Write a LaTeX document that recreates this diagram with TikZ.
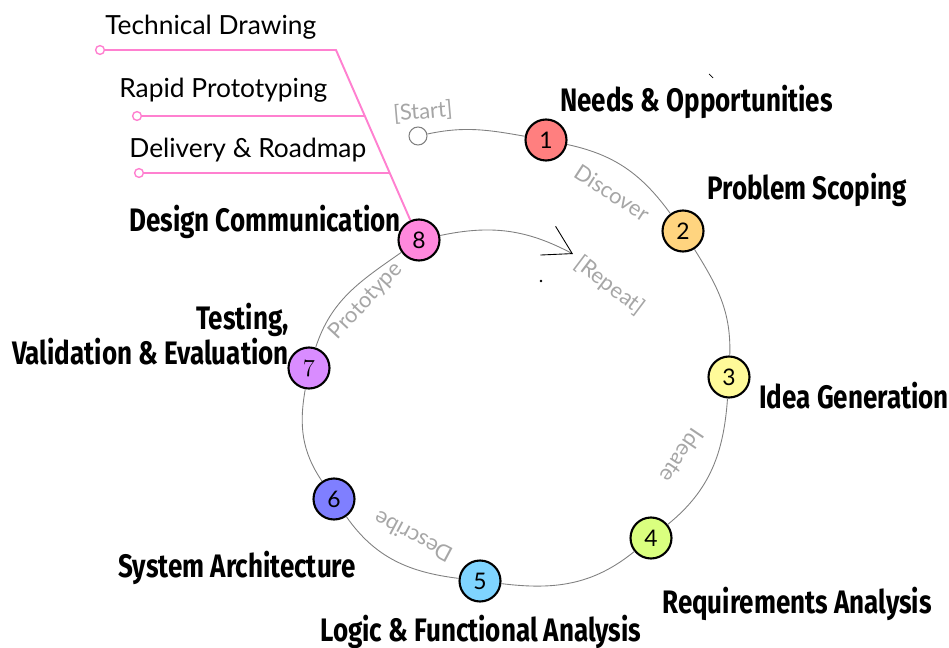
\documentclass[tikz,border=0pt]{standalone}
\usepackage{fontspec}
\usetikzlibrary{arrows.meta}
\newfontfamily\headfont[FakeStretch=0.8]{Fira Sans}
\newfontfamily\handfont{Lato}
\definecolor{c1}{HTML}{FF7F7F}
\definecolor{c2}{HTML}{FFD47F}
\definecolor{c3}{HTML}{FFFA99}
\definecolor{c4}{HTML}{DAFF7F}
\definecolor{c5}{HTML}{7FD4FF}
\definecolor{c6}{HTML}{7F7FFF}
\definecolor{c7}{HTML}{D98CFF}
\definecolor{c8}{HTML}{FF88DD}
\definecolor{linkpink}{HTML}{FF80D0}
\begin{document}
\begin{tikzpicture}[x=0.02cm, y=0.02cm,
	stage/.style={circle, draw=black, line width=1.2pt, minimum size=0.82cm, inner sep=0pt, font=\handfont\fontsize{13}{13}\selectfont},
	flow/.style={draw=black!50, line width=0.5pt},
	phase/.style={text=black!35, inner sep=1pt, font=\handfont\fontsize{12.5}{12.5}\selectfont},
	stagename/.style={inner sep=0pt, font=\headfont\bfseries\fontsize{18.5}{18.2}\selectfont},
	topic/.style={inner sep=0pt, font=\handfont\fontsize{15}{15}\selectfont},
	lead/.style={draw=linkpink, line width=1.1pt},
	leadend/.style={circle, draw=linkpink, fill=white, line width=0.8pt, inner sep=0pt, minimum size=5pt}]
	\useasboundingbox (0,0) rectangle (949,-648);
	% stages round the loop
	\node[circle, draw=black!50, fill=white, line width=0.6pt, minimum size=0.36cm, inner sep=0pt] (s) at (418,-136) {};
	\node[stage, fill=c1] (n1) at (546,-140) {1};
	\node[stage, fill=c2] (n2) at (683,-231) {2};
	\node[stage, fill=c3] (n3) at (729,-377) {3};
	\node[stage, fill=c4] (n4) at (651,-538) {4};
	\node[stage, fill=c5] (n5) at (480,-581) {5};
	\node[stage, fill=c6] (n6) at (334,-499) {6};
	\node[stage, fill=c7, font=\normalfont\fontsize{14}{14}\selectfont] (n7) at (309,-368) {7};
	\node[stage, fill=c8] (n8) at (419,-240) {8};
	\coordinate (rep) at (573,-254);
	\draw[flow] (s) to[out=12, in=170] (n1);
	\draw[flow] (n1) to[out=-12, in=126] (n2);
	\draw[flow] (n2) to[out=-58, in=88] (n3);
	\draw[flow] (n3) to[out=-94, in=39] (n4);
	\draw[flow] (n4) to[out=-141, in=-7] (n5);
	\draw[flow] (n5) to[out=173, in=-55] (n6);
	\draw[flow] (n6) to[out=124, in=-100] (n7);
	\draw[flow] (n7) to[out=72, in=215] (n8);
	\draw[flow, -{Straight Barb[length=0.55cm, width=0.65cm, color=black]}] (n8) to[out=12, in=152] (rep);
	% phase labels along the path
	\node[phase, rotate=5] (ps) at (423,-112) {[Start]};
	\node[phase, rotate=-33] (p1) at (612,-193) {Discover};
	\node[phase, rotate=-124] (p2) at (682,-456) {Ideate};
	\node[phase, rotate=152] (p3) at (413,-537) {Describe};
	\node[phase, rotate=47] (p4) at (366,-301) {Prototype};
	\node[phase, rotate=-37] (pr) at (610,-286) {[Repeat]};
	% stage names
	\node[stagename, anchor=west] (t1) at (560,-102) {Needs \& Opportunities};
	\node[stagename, anchor=west] (t2) at (707,-190) {Problem Scoping};
	\node[stagename, anchor=west] (t3) at (759,-396) {Idea Generation};
	\node[stagename, anchor=west] (t4) at (662,-604) {Requirements Analysis};
	\node[stagename, anchor=west] (t5) at (320,-632) {Logic \& Functional Analysis};
	\node[stagename, anchor=west] (t6) at (118,-568) {System Architecture};
	\node[stagename, anchor=east, align=right] (t7) at (289,-334) {Testing,\\Validation \& Evaluation};
	\node[stagename, anchor=west] (t8) at (129,-222) {Design Communication};
	% outputs of stage 8
	\node[topic, anchor=west] (o1) at (105,-27) {Technical Drawing};
	\node[topic, anchor=west] (o2) at (119,-90) {Rapid Prototyping};
	\node[topic, anchor=west] (o3) at (129,-150) {Delivery \& Roadmap};
	\coordinate (j1) at (336,-50);
	\coordinate (j2) at (365,-116);
	\coordinate (j3) at (390,-173);
	\node[leadend] (e1) at (100,-50) {};
	\node[leadend] (e2) at (137,-116) {};
	\node[leadend] (e3) at (139,-173) {};
	\draw[lead] (e1) -- (j1) -- (n8);
	\draw[lead] (e2) -- (j2);
	\draw[lead] (e3) -- (j3);
	% stray marks
	\fill (541,-281) circle (1.3);
	\draw[line width=0.4pt] (709,-74) -- (713,-78);
\end{tikzpicture}
\end{document}
